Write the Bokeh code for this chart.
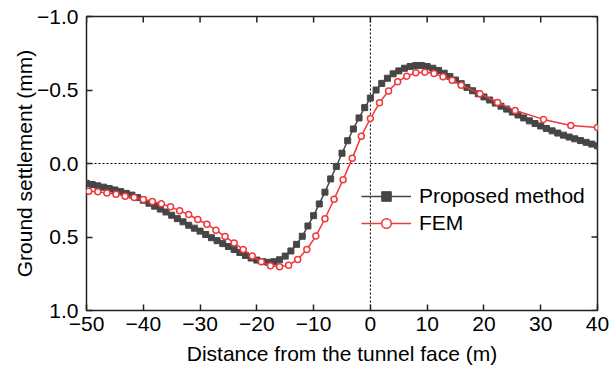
import math
from bokeh.plotting import figure
from bokeh.models import (Range1d, Span, Legend, LegendItem,
                          FixedTicker, CustomJSTickFormatter)
from bokeh.embed import file_html
from bokeh.resources import INLINE

# ---------------- data ----------------
prop_x = list(range(-50, 41))
prop_y = [0.135, 0.143, 0.152, 0.161, 0.170, 0.180, 0.191, 0.203, 0.215, 0.232,
          0.250, 0.270, 0.290, 0.310, 0.330, 0.352, 0.375, 0.397, 0.420, 0.440,
          0.460, 0.483, 0.505, 0.525, 0.545, 0.565, 0.585, 0.605, 0.625, 0.643,
          0.657, 0.667, 0.672, 0.668, 0.655, 0.630, 0.595, 0.550, 0.495, 0.425,
          0.355, 0.275, 0.195, 0.105, 0.020, -0.070, -0.155, -0.235, -0.310, -0.380,
          -0.445, -0.500, -0.545, -0.580, -0.610, -0.630, -0.648, -0.660, -0.667, -0.667,
          -0.660, -0.648, -0.633, -0.614, -0.592, -0.568, -0.543, -0.518, -0.495, -0.474,
          -0.453, -0.432, -0.411, -0.390, -0.370, -0.350, -0.330, -0.310, -0.290, -0.272,
          -0.255, -0.238, -0.222, -0.207, -0.193, -0.180, -0.168, -0.156, -0.144, -0.132,
          -0.120]

fem_x = [-49.6, -48.0, -46.4, -44.8, -43.2, -41.6, -40.0, -38.4, -36.8, -35.2,
         -33.6, -32.0, -30.4, -28.8, -27.2, -25.6, -24.0, -22.4, -20.8, -19.2,
         -17.6, -16.0, -14.4, -12.8, -11.2, -9.6, -8.0, -6.4, -4.8, -3.2,
         -1.6, 0.0, 1.6, 3.2, 4.8, 6.4, 8.0, 9.6, 11.2, 12.8,
         14.4, 16.0, 19.3, 22.4, 25.5, 30.5, 35.3, 40.0]
fem_y = [0.188, 0.193, 0.200, 0.209, 0.222, 0.231, 0.245, 0.258, 0.274, 0.295,
         0.322, 0.347, 0.381, 0.413, 0.454, 0.497, 0.540, 0.585, 0.630, 0.669,
         0.696, 0.703, 0.692, 0.653, 0.585, 0.494, 0.376, 0.243, 0.110, -0.035,
         -0.186, -0.306, -0.413, -0.494, -0.556, -0.594, -0.617, -0.621, -0.612, -0.590,
         -0.567, -0.533, -0.475, -0.415, -0.360, -0.300, -0.258, -0.245]

x_ticks = [-50, -40, -30, -20, -10, 0, 10, 20, 30, 40]
y_ticks = [-1.0, -0.5, 0.0, 0.5, 1.0]

FONT = "Liberation Sans"
FS = "21px"
GRAY = "#464646"
RED = "#f2383a"
AX = "#222222"

xr = Range1d(-50, 40)
yr = Range1d(1.0, -1.0)
p = figure(width=614, height=376, output_backend="svg", toolbar_location=None,
           x_range=xr, y_range=yr,
           min_border_left=86, min_border_right=17, min_border_top=16,
           min_border_bottom=66, background_fill_color="white",
           border_fill_color="white")
p.xgrid.visible = False
p.ygrid.visible = False
p.outline_line_color = AX
p.outline_line_width = 1.5

xfmt = CustomJSTickFormatter(code="return (tick < 0 ? '\u2212' : '') + Math.abs(tick).toFixed(0);")
yfmt = CustomJSTickFormatter(code="return (tick < -1e-9 ? '\u2212' : '') + Math.abs(tick).toFixed(1);")

for ax, ticks, fmt in ((p.xaxis[0], x_ticks, xfmt), (p.yaxis[0], y_ticks, yfmt)):
    ax.ticker = FixedTicker(ticks=ticks)
    ax.formatter = fmt
    ax.axis_line_color = None
    ax.major_tick_in = 6
    ax.major_tick_out = 0
    ax.minor_tick_line_color = None
    ax.major_tick_line_color = AX
    ax.major_tick_line_width = 1.5
    ax.major_label_text_font = FONT
    ax.major_label_text_font_size = FS
    ax.major_label_text_color = "black"
    ax.axis_label_text_font = FONT
    ax.axis_label_text_font_size = FS
    ax.axis_label_text_font_style = "normal"
    ax.axis_label_text_color = "black"

p.xaxis[0].axis_label = "Distance from the tunnel face (m)"
p.xaxis[0].major_label_standoff = 6
p.xaxis[0].axis_label_standoff = 8
p.yaxis[0].axis_label = "Ground settlement (mm)"
p.yaxis[0].major_label_standoff = 8
p.yaxis[0].axis_label_standoff = -2

# mirrored inward ticks on the top and right frame edges (clipped to frame)
p.scatter(x_ticks, [yr.end] * len(x_ticks), marker="dash", angle=math.pi / 2,
          size=12, line_color=AX, line_width=1.5)
p.scatter([xr.end] * len(y_ticks), y_ticks, marker="dash", angle=0,
          size=12, line_color=AX, line_width=1.5)

p.add_layout(Span(location=0, dimension="width", line_color="black",
                  line_width=1, line_dash="2 2", level="underlay"))
p.add_layout(Span(location=0, dimension="height", line_color="black",
                  line_width=1, line_dash="2 2", level="underlay"))

gl = p.line(prop_x, prop_y, line_color=GRAY, line_width=1.5)
gs = p.scatter(prop_x, prop_y, marker="square", size=6, fill_color=GRAY,
               line_color=GRAY, line_width=1)
rl = p.line(fem_x, fem_y, line_color=RED, line_width=1.5)
rs = p.scatter(fem_x, fem_y, marker="circle", size=6, fill_color="white",
               line_color=RED, line_width=1.5)

legend = Legend(items=[LegendItem(label="Proposed method", renderers=[gl, gs]),
                       LegendItem(label="FEM", renderers=[rl, rs])],
                location=(275, 75), orientation="vertical",
                label_text_font=FONT, label_text_font_size=FS,
                label_text_color="black",
                glyph_width=50, glyph_height=24, label_height=24,
                label_standoff=8, spacing=3, padding=0, margin=0,
                border_line_alpha=0, background_fill_alpha=0)
p.add_layout(legend, "center")

open("out.html", "w").write(file_html(p, INLINE))
